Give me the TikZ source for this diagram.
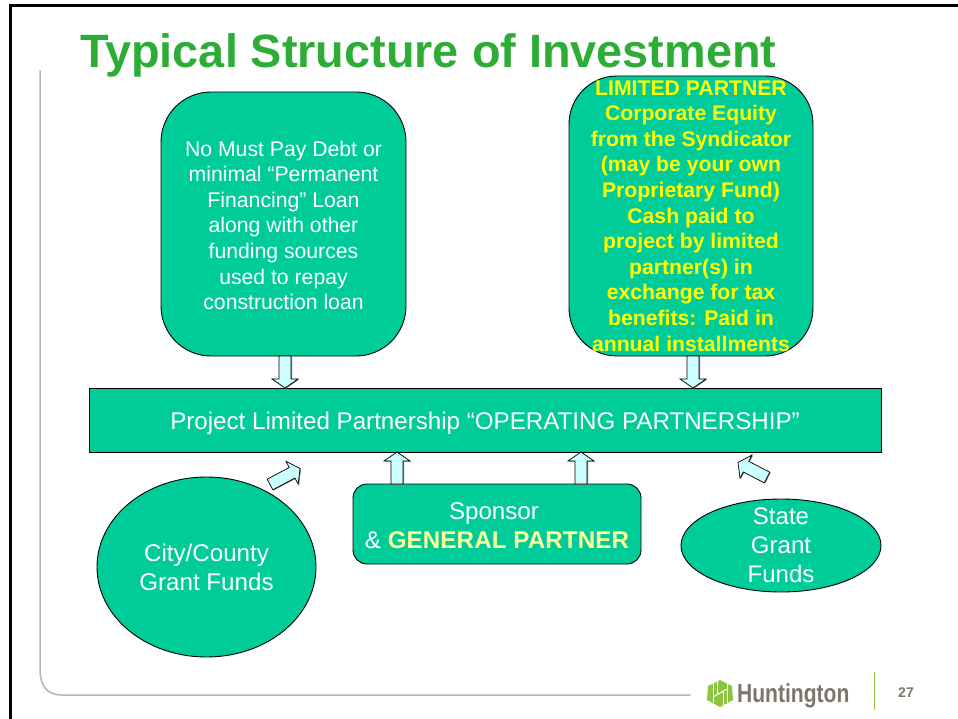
\documentclass[tikz,border=0pt]{standalone}
\usepackage{fontspec}
\setmainfont{Liberation Sans}
\usetikzlibrary{shapes.geometric,calc,shadows}
\definecolor{teal}{HTML}{00CC99}
\definecolor{ttl}{HTML}{2EAD36}
\definecolor{cyanf}{HTML}{CCFFFF}
\definecolor{rulegray}{HTML}{B5B5A8}
\definecolor{logogray}{HTML}{7D7668}
\definecolor{logogreen}{HTML}{8CC63F}
\definecolor{ylw}{HTML}{FFFF00}
\definecolor{pale}{HTML}{FFFF99}
\tikzset{
  x=1pt,y=-1pt,
  boxbase/.style={draw=black,fill=teal,line width=0.9pt,text=white,align=center,inner sep=0pt,outer sep=0pt,
    font=\fontsize{24.15}{29}\selectfont},
  smalltext/.style={font=\fontsize{21.2}{25.6}\selectfont},
  rbox/.style={boxbase,rectangle},
  ell/.style={boxbase,ellipse},
  celltext/.style={text=white,align=center,inner sep=0pt,font=\fontsize{24}{29}\selectfont},
  blockarrow/.style={draw=black,fill=cyanf,line width=0.7pt,line join=miter,
    drop shadow={shadow xshift=1pt,shadow yshift=-0.6pt,fill=black!50,opacity=1}},
}
\newcommand{\blockarrow}[2]{%
  \draw[blockarrow]
    ($(#1)!6pt!90:(#2)$) --
    ($($(#2)!9pt!(#1)$)!6pt!-90:(#1)$) --
    ($($(#2)!9pt!(#1)$)!13pt!-90:(#1)$) -- (#2) --
    ($($(#2)!9pt!(#1)$)!13pt!90:(#1)$) --
    ($($(#2)!9pt!(#1)$)!6pt!90:(#1)$) --
    ($(#1)!6pt!-90:(#2)$) -- cycle;}
\begin{document}
\begin{tikzpicture}
\useasboundingbox (0,0) rectangle (958,719);
\fill[white] (0,0) rectangle (958,719);
% slide frame
\draw[black,line width=2.6pt] (10.3,725) -- (10.3,5.5) -- (965,5.5);
% rule
\draw[rulegray,line width=1.5pt,line cap=round] (40,71) -- (40,669) .. controls (40,685) and (46,695) .. (62,695) -- (690,695);
\draw[logogreen,line width=1pt] (874.5,672) -- (874.5,710);
% title
\node[anchor=base west,inner sep=0pt,text=ttl,font=\fontsize{46.8}{50}\selectfont\bfseries] (title) at (80,67.5) {Typical Structure of Investment};
% boxes
\node[rbox,smalltext,minimum width=245pt,minimum height=264pt,rounded corners=50pt] (debt) at (283.5,224)
  {\rule{0pt}{18pt}No Must Pay Debt or\\minimal “Permanent\\Financing” Loan\\along with other\\funding sources\\used to repay\\construction loan};
\node[rbox,smalltext,minimum width=244pt,minimum height=280pt,rounded corners=48pt,text=ylw] (lp) at (691,216)
  {\bfseries LIMITED PARTNER\\\bfseries Corporate Equity\\\bfseries from the Syndicator\\\bfseries (may be your own\\\bfseries Proprietary Fund)\\\bfseries Cash paid to\\\bfseries project by limited\\\bfseries partner(s) in\\\bfseries exchange for tax\\\bfseries benefits: Paid in\\\bfseries annual installments};
\node[rbox,minimum width=792pt,minimum height=64pt] (op) at (485,420)
  {\rule{0pt}{24pt}Project Limited Partnership “OPERATING PARTNERSHIP”};
\node[rbox,minimum width=288pt,minimum height=80pt,rounded corners=14pt] (sp) at (497,524)
  {\rule{0pt}{21pt}Sponsor\hspace*{6pt}\\\& {\addfontfeature{LetterSpace=0.5}\bfseries\textcolor{pale}{GENERAL PARTNER}}};
\node[ell,minimum width=219pt,minimum height=180pt] (city) at (206.5,567) {City/County\\Grant Funds};
\node[ell,minimum width=200pt,minimum height=93pt] (state) at (781,545.5) {};
\node[celltext] (statetext) at (state) {State\\Grant\\Funds};
% arrow ends
\coordinate (a1s) at (285,356); \coordinate (a1e) at (285,388);
\coordinate (a2s) at (693,356); \coordinate (a2e) at (693,388);
\coordinate (a3s) at (397,484); \coordinate (a3e) at (397,452);
\coordinate (a4s) at (581,484); \coordinate (a4e) at (581,452);
\coordinate (a5s) at (270,484.5); \coordinate (a5e) at (300,468.5);
\coordinate (a6s) at (767,477.5); \coordinate (a6e) at (738,462.5);
\blockarrow{a1s}{a1e}
\blockarrow{a2s}{a2e}
\blockarrow{a3s}{a3e}
\blockarrow{a4s}{a4e}
\blockarrow{a5s}{a5e}
\blockarrow{a6s}{a6e}
% logo
\fill[logogreen] (720,680) -- (732,686) -- (733,700) -- (720,707) -- (707,700) -- (708,686) -- cycle;
\draw[white,line width=1pt] (713,683) -- (713,703) (717,681) -- (717,694) (723,692) -- (723,705) (727,683) -- (727,703);
\draw[white,line width=1pt] (713,697) -- (727,689);
\node[anchor=base west,inner sep=0pt,text=logogray,font=\fontsize{26}{28}\selectfont\bfseries,xscale=0.81] (logo) at (737,702) {Huntington};
\node[inner sep=0pt,text=logogray,font=\fontsize{14}{16}\selectfont\bfseries] (page) at (906,693) {27};
\end{tikzpicture}
\end{document}
